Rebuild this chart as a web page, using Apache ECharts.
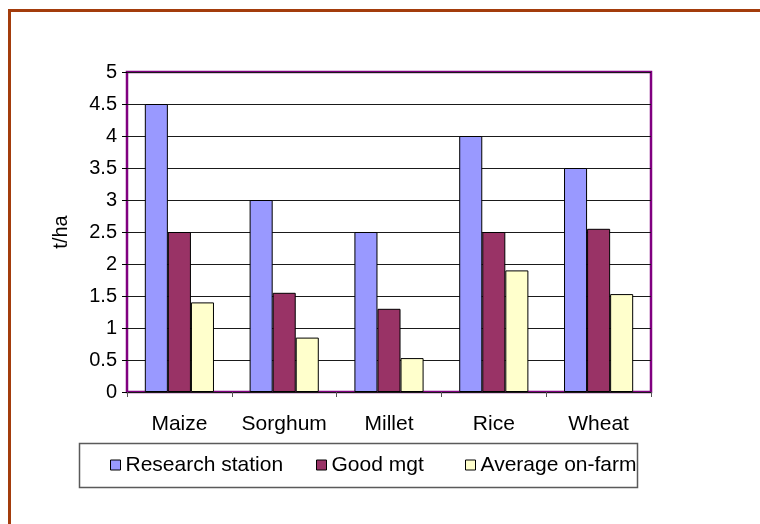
<!DOCTYPE html>
<html>
<head>
<meta charset="utf-8">
<script src="https://cdn.jsdelivr.net/npm/echarts@6/dist/echarts.min.js"></script>
<style>
  html, body { margin: 0; padding: 0; background: #fff; }
  #chart { width: 760px; height: 524px; }
</style>
</head>
<body>
<div id="chart"></div>
<script>
// Crop yields by management level (t/ha)
const crops = ['Maize', 'Sorghum', 'Millet', 'Rice', 'Wheat'];
const researchStation = [4.5, 3.0, 2.5, 4.0, 3.5];
const goodMgt = [2.5, 1.55, 1.3, 2.5, 2.55];
const averageOnFarm = [1.4, 0.85, 0.53, 1.9, 1.53];
const seriesNames = ['Research station', 'Good mgt', 'Average on-farm'];
const seriesColors = ['#9999FF', '#993366', '#FFFFCC'];

const FONT = 'Liberation Sans, Arial, sans-serif';

const chart = echarts.init(document.getElementById('chart'), null, { renderer: 'canvas' });

function bar(name, data, color) {
  return {
    name: name,
    type: 'bar',
    data: data,
    barGap: '0%',
    barCategoryGap: '34%',
    itemStyle: { color: color, borderColor: '#000', borderWidth: 1 },
    emphasis: { disabled: true }
  };
}

// one legend entry per column of the key box
function legendEntry(name, left) {
  return {
    left: left, top: 453,
    padding: 0,
    itemWidth: 10, itemHeight: 10, itemGap: 0,
    icon: 'rect',
    selectedMode: false,
    textStyle: { fontFamily: FONT, fontSize: 21, lineHeight: 24, color: '#000' },
    itemStyle: { borderColor: '#000', borderWidth: 1 },
    data: [name]
  };
}

chart.setOption({
  animation: false,
  backgroundColor: '#fff',
  textStyle: { fontFamily: FONT },
  grid: {
    left: 127, top: 72, width: 524, height: 320,
    show: true, borderColor: '#800080', borderWidth: 2.5,
    backgroundColor: 'transparent'
  },
  legend: [
    legendEntry(seriesNames[0], 110),
    legendEntry(seriesNames[1], 316),
    legendEntry(seriesNames[2], 465)
  ],
  xAxis: {
    type: 'category',
    data: crops,
    axisLine: { show: false },
    axisTick: { show: true, length: 5, lineStyle: { color: '#555' } },
    axisLabel: { color: '#000', fontSize: 21, fontFamily: FONT, margin: 22, interval: 0 },
    splitLine: { show: false }
  },
  yAxis: {
    type: 'value',
    min: 0, max: 5, interval: 0.5,
    name: 't/ha',
    nameLocation: 'middle',
    nameGap: 56,
    nameRotate: 90,
    nameTextStyle: { color: '#000', fontSize: 20, fontFamily: FONT },
    axisLine: { show: false },
    axisTick: { show: true, length: 5, lineStyle: { color: '#000' } },
    axisLabel: { color: '#000', fontSize: 20, fontFamily: FONT, margin: 10 },
    splitLine: { show: true, lineStyle: { color: '#1a1a1a', width: 1 } }
  },
  graphic: [
    {
      type: 'rect', silent: true,
      shape: { x: 9.5, y: 10.5, width: 900, height: 700 },
      style: { fill: 'none', stroke: '#A33C0C', lineWidth: 3 }
    },
    {
      type: 'rect', silent: true,
      shape: { x: 79.5, y: 443.5, width: 558, height: 44 },
      style: { fill: 'none', stroke: '#5a5a5a', lineWidth: 1.5 },
      z: 0
    }
  ],
  series: [
    bar(seriesNames[0], researchStation, seriesColors[0]),
    bar(seriesNames[1], goodMgt, seriesColors[1]),
    bar(seriesNames[2], averageOnFarm, seriesColors[2])
  ]
});
</script>
</body>
</html>
